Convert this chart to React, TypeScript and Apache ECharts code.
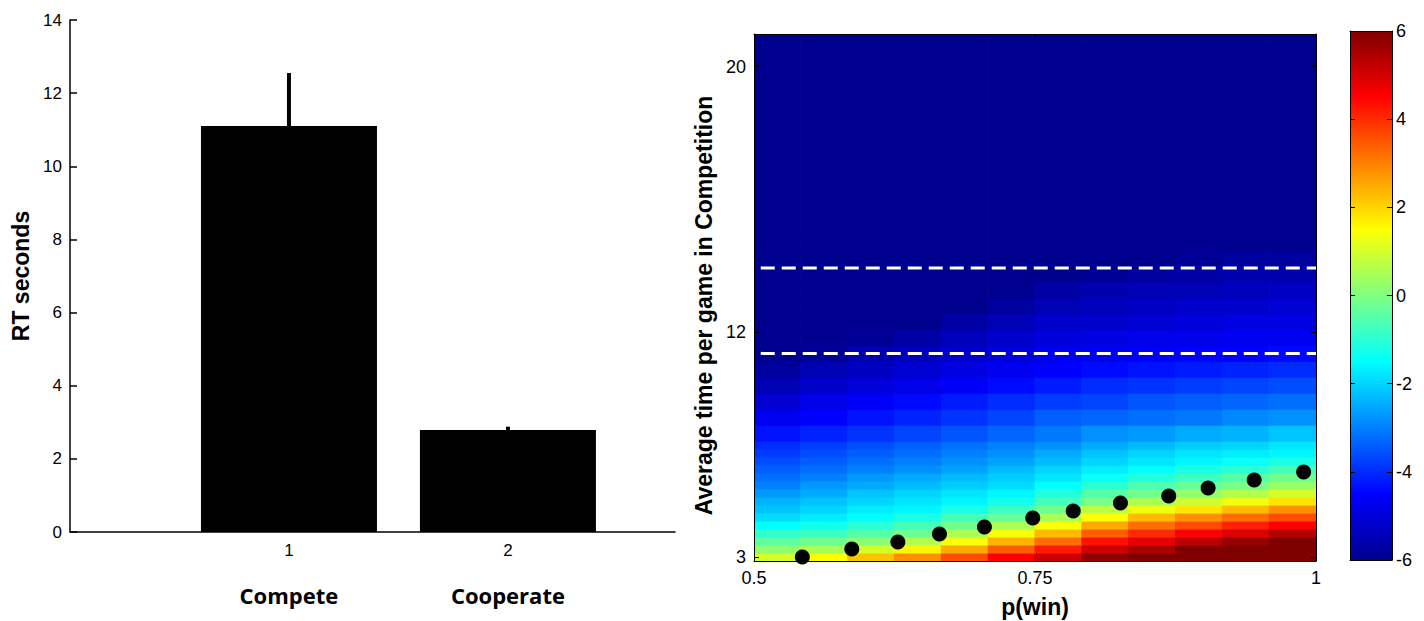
import React, { useEffect, useRef } from 'react';
import * as echarts from 'echarts';

// ---------- Left panel: bar chart ----------
const barCategories = [1, 2];
const barCategoryNames = ['Compete', 'Cooperate'];
const barMeans = [11.1, 2.79];
const barErrTops = [12.55, 2.88];

// ---------- Right panel: heat map ----------
// column edges in p(win)
const heatColEdges = [0.5, 0.5417, 0.5833, 0.625, 0.6667, 0.7083, 0.75, 0.7917, 0.8333, 0.875, 0.9167, 0.9583, 1.0];
// row edges in row-index units of the time axis (bottom = 0)
const heatRowEdges = [0, 1, 2, 3, 4, 5, 6, 7, 8, 9, 10, 11, 12, 13, 14, 15, 17, 19, 21, 23, 25, 27, 29, 31, 33, 35, 37, 39, 41, 66];
// cell values, bottom row first, 12 columns each
const heatValues = [
  [1.0, 1.5, 2.2, 2.8, 3.6, 4.5, 5.1, 5.8, 6, 6, 6, 6],
  [0.2, 0.5, 1.0, 1.6, 2.5, 3.4, 4.2, 5.1, 5.5, 6, 6, 6],
  [-0.4, -0.2, 0.1, 0.6, 1.4, 2.4, 3.2, 4.3, 4.8, 5.3, 5.7, 6],
  [-0.9, -0.8, -0.5, -0.2, 0.5, 1.4, 2.3, 3.4, 4.0, 4.5, 4.9, 5.4],
  [-1.5, -1.3, -1.0, -0.7, -0.2, 0.5, 1.4, 2.5, 3.2, 3.6, 4.1, 4.5],
  [-1.9, -1.7, -1.5, -1.2, -0.7, -0.3, 0.5, 1.5, 2.3, 2.8, 3.2, 3.6],
  [-2.2, -2.0, -1.7, -1.6, -1.2, -0.8, -0.2, 0.7, 1.3, 1.8, 2.3, 2.8],
  [-2.4, -2.2, -2.0, -1.8, -1.6, -1.3, -0.7, -0.1, 0.5, 0.9, 1.3, 1.8],
  [-2.7, -2.5, -2.2, -2.0, -1.8, -1.6, -1.1, -0.5, -0.2, 0.2, 0.6, 1.0],
  [-3.0, -2.7, -2.5, -2.3, -2.1, -1.9, -1.5, -1.0, -0.6, -0.3, -0.1, 0.3],
  [-3.2, -3.0, -2.7, -2.5, -2.3, -2.1, -1.8, -1.4, -1.1, -0.8, -0.5, -0.2],
  [-3.4, -3.2, -3.0, -2.8, -2.6, -2.3, -2.0, -1.7, -1.5, -1.2, -1.0, -0.7],
  [-3.6, -3.4, -3.2, -3.0, -2.8, -2.6, -2.3, -2.0, -1.8, -1.6, -1.4, -1.2],
  [-3.8, -3.6, -3.4, -3.2, -3.0, -2.8, -2.5, -2.2, -2.0, -1.8, -1.7, -1.6],
  [-4.0, -3.8, -3.6, -3.4, -3.2, -3.0, -2.8, -2.5, -2.3, -2.1, -2.0, -1.8],
  [-4.3, -4.1, -3.9, -3.7, -3.5, -3.3, -3.1, -2.8, -2.7, -2.5, -2.4, -2.2],
  [-4.7, -4.5, -4.3, -4.1, -3.9, -3.7, -3.4, -3.3, -3.2, -3.1, -2.9, -2.8],
  [-5.1, -4.8, -4.6, -4.4, -4.2, -4.0, -3.8, -3.7, -3.5, -3.4, -3.3, -3.2],
  [-5.5, -5.2, -5.0, -4.8, -4.6, -4.4, -4.2, -4.0, -3.9, -3.8, -3.7, -3.6],
  [-5.8, -5.5, -5.3, -5.1, -4.9, -4.7, -4.5, -4.4, -4.3, -4.2, -4.1, -4.0],
  [-6, -5.9, -5.6, -5.4, -5.2, -5.0, -4.7, -4.7, -4.6, -4.5, -4.5, -4.4],
  [-6, -6, -5.9, -5.7, -5.4, -5.2, -5.0, -4.9, -4.8, -4.8, -4.7, -4.7],
  [-6, -6, -6, -6, -5.7, -5.5, -5.2, -5.2, -5.1, -5.0, -4.9, -4.9],
  [-6, -6, -6, -6, -6, -5.8, -5.5, -5.4, -5.3, -5.2, -5.2, -5.1],
  [-6, -6, -6, -6, -6, -6, -5.7, -5.6, -5.5, -5.5, -5.4, -5.3],
  [-6, -6, -6, -6, -6, -6, -6, -5.9, -5.8, -5.7, -5.6, -5.6],
  [-6, -6, -6, -6, -6, -6, -6, -6, -6, -5.9, -5.8, -5.8],
  [-6, -6, -6, -6, -6, -6, -6, -6, -6, -6, -6, -6],
  [-6, -6, -6, -6, -6, -6, -6, -6, -6, -6, -6, -6],
];
const dotsX = [0.543, 0.587, 0.628, 0.665, 0.705, 0.748, 0.784, 0.826, 0.869, 0.904, 0.945, 0.989];
const dotsY = [0.5, 1.5, 2.38, 3.38, 4.26, 5.39, 6.26, 7.26, 8.14, 9.14, 10.14, 11.15];
const dashedRows = [26.0, 36.7];
const dashedXRange = [0.506, 1.0];
const yTickPositions = [0.5, 28.7, 61.9];
const yTickLabels = ['3', '12', '20'];
const colorbarRange = [-6, 6];
const jetColors = ['#00008f', '#0000ff', '#0080ff', '#00ffff', '#80ff80', '#ffff00', '#ff8000', '#ff0000', '#800000'];

const FONT = '"Liberation Sans", Arial, sans-serif';
const BOLD = '"Liberation Sans", Arial, sans-serif';
const CAT_FONT = '"Open Sans", "Liberation Sans", sans-serif';

export default function App() {
  const ref = useRef<HTMLDivElement>(null);
  useEffect(() => {
    if (!ref.current) return;
    const chart = echarts.init(ref.current, undefined, { renderer: 'svg' });

    const heatData: number[][] = [];
    for (let r = 0; r < heatValues.length; r++) {
      for (let c = 0; c < heatValues[r].length; c++) {
        heatData.push([heatColEdges[c], heatColEdges[c + 1], heatRowEdges[r], heatRowEdges[r + 1], heatValues[r][c]]);
      }
    }

    const axisLineBlack = { show: true, onZero: false, lineStyle: { color: '#000', width: 1 } };
    const tickInside = { show: true, inside: true, length: 5, lineStyle: { color: '#000' } };
    const labelOf = (v: number) => {
      const i = yTickPositions.findIndex((p) => Math.abs(p - v) < 1e-6);
      return i >= 0 ? yTickLabels[i] : '';
    };
    const gridBase = { containLabel: false, outerBoundsMode: 'none' };

    const option: any = {
      animation: false,
      backgroundColor: '#fff',
      grid: [
        { ...gridBase, left: 70, top: 20, width: 605, height: 512 },
        { ...gridBase, left: 754, top: 34, width: 562, height: 527 },
        { ...gridBase, left: 1350, top: 31, width: 42, height: 529 },
      ],
      visualMap: {
        type: 'continuous', show: false, min: -6, max: 6, dimension: 4, seriesIndex: 2,
        inRange: { color: jetColors },
      },
      xAxis: [
        {
          gridIndex: 0, type: 'value', min: 0, max: 2.763, interval: 1, position: 'bottom',
          axisLine: { show: true, onZero: false, lineStyle: { color: '#000', width: 1.5 } },
          axisTick: { show: false }, splitLine: { show: false },
          axisLabel: {
            formatter: (v: number) => (barCategories.includes(v) ? String(v) : ''),
            fontSize: 17, color: '#000', margin: 10, fontFamily: FONT,
          },
        },
        {
          gridIndex: 0, type: 'value', min: 0, max: 2.763, interval: 1, position: 'bottom', offset: 0,
          axisLine: { show: false, onZero: false }, axisTick: { show: false }, splitLine: { show: false },
          axisLabel: {
            formatter: (v: number) => {
              const i = barCategories.indexOf(v);
              return i >= 0 ? barCategoryNames[i] : '';
            },
            fontSize: 22, fontWeight: 'bold', color: '#000', margin: 52, fontFamily: CAT_FONT,
          },
        },
        {
          gridIndex: 1, type: 'value', min: 0.5, max: 1, interval: 0.25, position: 'bottom', z: 10,
          axisLine: axisLineBlack, axisTick: tickInside, splitLine: { show: false },
          axisLabel: { fontSize: 18, color: '#000', margin: 8, fontFamily: FONT },
          name: 'p(win)', nameLocation: 'middle', nameGap: 34,
          nameTextStyle: { fontSize: 23, fontWeight: 'bold', color: '#000', fontFamily: BOLD },
        },
        {
          gridIndex: 1, type: 'value', min: 0.5, max: 1, interval: 0.25, position: 'top', z: 10,
          axisLine: axisLineBlack, axisTick: tickInside, splitLine: { show: false },
          axisLabel: { show: false },
        },
        {
          gridIndex: 2, type: 'value', min: 0, max: 1, position: 'bottom', z: 10,
          axisLine: axisLineBlack, axisTick: { show: false }, splitLine: { show: false }, axisLabel: { show: false },
        },
        {
          gridIndex: 2, type: 'value', min: 0, max: 1, position: 'top', z: 10,
          axisLine: axisLineBlack, axisTick: { show: false }, splitLine: { show: false }, axisLabel: { show: false },
        },
      ],
      yAxis: [
        {
          gridIndex: 0, type: 'value', min: 0, max: 14, interval: 2,
          axisLine: { show: true, lineStyle: { color: '#000', width: 1.5 } },
          axisTick: { show: true, inside: true, length: 7, lineStyle: { color: '#000', width: 1.5 } },
          splitLine: { show: false },
          axisLabel: { fontSize: 17, color: '#000', margin: 8, fontFamily: FONT },
          name: 'RT seconds', nameLocation: 'middle', nameGap: 38, nameRotate: 90,
          nameTextStyle: { fontSize: 23, fontWeight: 'bold', color: '#000', fontFamily: BOLD },
        },
        {
          gridIndex: 1, type: 'value', min: 0, max: 66, position: 'left', z: 10,
          axisLine: axisLineBlack,
          axisTick: { ...tickInside, customValues: yTickPositions },
          splitLine: { show: false },
          axisLabel: { customValues: yTickPositions, formatter: labelOf, fontSize: 18, color: '#000', margin: 8, fontFamily: FONT },
          name: 'Average time per game in Competition', nameLocation: 'middle', nameGap: 39, nameRotate: 90,
          nameTextStyle: { fontSize: 23, fontWeight: 'bold', color: '#000', fontFamily: BOLD, padding: [0, 16, 0, 0] },
        },
        {
          gridIndex: 1, type: 'value', min: 0, max: 66, position: 'right', z: 10,
          axisLine: axisLineBlack,
          axisTick: { ...tickInside, customValues: yTickPositions },
          splitLine: { show: false }, axisLabel: { show: false },
        },
        {
          gridIndex: 2, type: 'value', min: -6, max: 6, interval: 2, position: 'left', z: 10,
          axisLine: axisLineBlack, axisTick: tickInside, splitLine: { show: false }, axisLabel: { show: false },
        },
        {
          gridIndex: 2, type: 'value', min: -6, max: 6, interval: 2, position: 'right', z: 10,
          axisLine: axisLineBlack, axisTick: tickInside, splitLine: { show: false },
          axisLabel: { fontSize: 18, color: '#000', margin: 4, fontFamily: FONT },
        },
      ],
      series: [
        {
          type: 'bar', xAxisIndex: 0, yAxisIndex: 0, barWidth: 176,
          data: barCategories.map((c, i) => [c, barMeans[i]]),
          itemStyle: { color: '#000' },
        },
        {
          type: 'custom', xAxisIndex: 0, yAxisIndex: 0,
          data: barCategories.map((c, i) => [c, barMeans[i], barErrTops[i]]),
          encode: { x: 0, y: [1, 2] },
          renderItem: (params: any, api: any) => {
            const x = api.value(0);
            const a = api.coord([x, api.value(1)]);
            const b = api.coord([x, api.value(2)]);
            return { type: 'line', shape: { x1: a[0], y1: a[1], x2: b[0], y2: b[1] }, style: { stroke: '#000', lineWidth: 4 } };
          },
          z: 3,
        },
        {
          type: 'custom', xAxisIndex: 2, yAxisIndex: 1, clip: true,
          data: heatData,
          encode: { x: [0, 1], y: [2, 3] },
          renderItem: (params: any, api: any) => {
            const p0 = api.coord([api.value(0), api.value(3)]);
            const p1 = api.coord([api.value(1), api.value(2)]);
            const col = api.visual('color');
            return {
              type: 'rect',
              shape: { x: p0[0], y: p0[1], width: p1[0] - p0[0], height: p1[1] - p0[1] },
              style: { fill: col, stroke: col, lineWidth: 1 },
            };
          },
          z: 1,
        },
        ...dashedRows.map((r) => ({
          type: 'line', xAxisIndex: 2, yAxisIndex: 1, silent: true, showSymbol: false, symbol: 'none',
          data: [[dashedXRange[0], r], [dashedXRange[1], r]],
          lineStyle: { color: '#fff', width: 3, type: [14, 7] },
          z: 4,
        })),
        {
          type: 'scatter', xAxisIndex: 2, yAxisIndex: 1, clip: false,
          data: dotsX.map((x, i) => [x, dotsY[i]]),
          symbol: 'circle', symbolSize: 15,
          itemStyle: { color: '#000', opacity: 1 },
          z: 5,
        },
        {
          type: 'custom', xAxisIndex: 4, yAxisIndex: 3,
          data: [[0, 1, colorbarRange[0], colorbarRange[1]]],
          encode: { x: [0, 1], y: [2, 3] },
          renderItem: (params: any, api: any) => {
            const p0 = api.coord([api.value(0), api.value(3)]);
            const p1 = api.coord([api.value(1), api.value(2)]);
            return {
              type: 'rect',
              shape: { x: p0[0], y: p0[1], width: p1[0] - p0[0], height: p1[1] - p0[1] },
              style: {
                fill: new echarts.graphic.LinearGradient(0, 1, 0, 0,
                  jetColors.map((c, i) => ({ offset: i / (jetColors.length - 1), color: c }))),
              },
            };
          },
          z: 1,
        },
      ],
    };
    chart.setOption(option);
    return () => chart.dispose();
  }, []);
  return (
    <div
      ref={ref}
      style={{ position: 'fixed', left: 0, top: 0, width: 1424, height: 621, background: '#fff' }}
    />
  );
}
